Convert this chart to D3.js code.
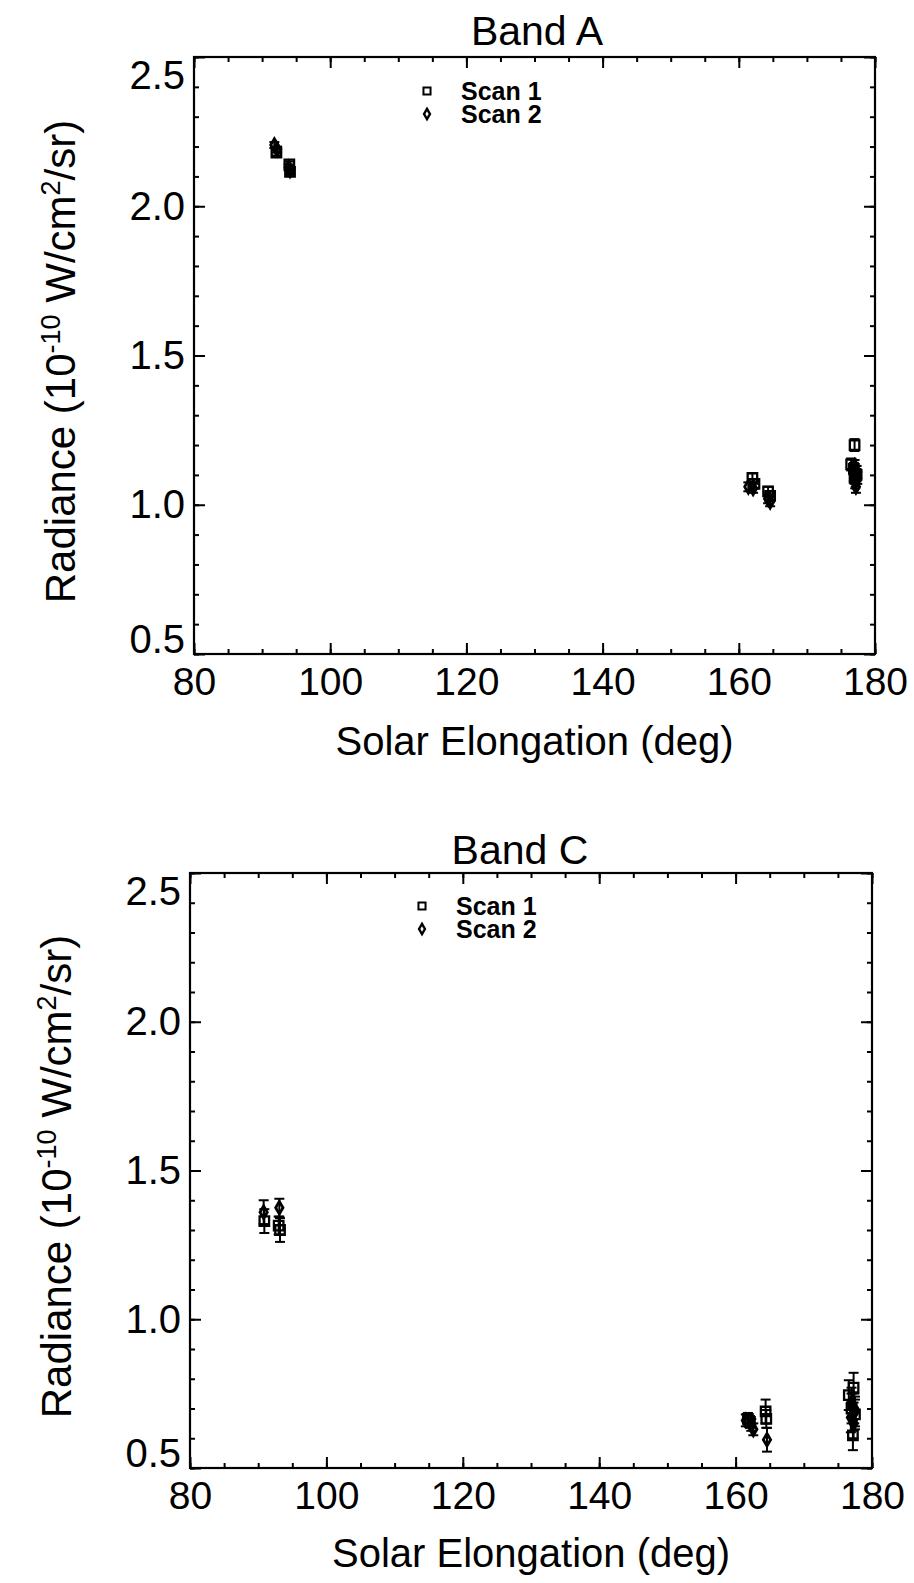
<!DOCTYPE html>
<html>
<head>
<meta charset="utf-8">
<script src="https://cdn.jsdelivr.net/npm/d3@7"></script>
<style>
  body { margin: 0; background: #fff; }
  text { font-family: "Liberation Sans", Arial, sans-serif; fill: #000; }
</style>
</head>
<body>
<div class="canvas"></div>
<script>
// data (solar elongation deg, radiance 1e-10 W/cm2/sr, error)
const xTicks = [80, 100, 120, 140, 160, 180];
const yTicks = [0.5, 1.0, 1.5, 2.0, 2.5];
const legendLabels = ["Scan 1", "Scan 2"];

const bandA_scan1 = [
  { elong: 92.1, rad: 2.18, err: 0.01 },
  { elong: 94.0, rad: 2.14, err: 0.01 },
  { elong: 94.1, rad: 2.115, err: 0.01 },
  { elong: 162.0, rad: 1.09, err: 0.015 },
  { elong: 162.3, rad: 1.07, err: 0.015 },
  { elong: 164.3, rad: 1.045, err: 0.015 },
  { elong: 164.6, rad: 1.03, err: 0.015 },
  { elong: 177.0, rad: 1.2, err: 0.02 },
  { elong: 176.5, rad: 1.135, err: 0.02 },
  { elong: 176.9, rad: 1.12, err: 0.02 },
  { elong: 177.3, rad: 1.1, err: 0.02 },
  { elong: 177.0, rad: 1.09, err: 0.02 }
];
const bandA_scan2 = [
  { elong: 91.8, rad: 2.205, err: 0.01 },
  { elong: 92.2, rad: 2.19, err: 0.01 },
  { elong: 93.9, rad: 2.13, err: 0.01 },
  { elong: 94.1, rad: 2.12, err: 0.01 },
  { elong: 161.4, rad: 1.06, err: 0.015 },
  { elong: 162.1, rad: 1.055, err: 0.015 },
  { elong: 164.3, rad: 1.02, err: 0.015 },
  { elong: 164.6, rad: 1.01, err: 0.015 },
  { elong: 177.0, rad: 1.13, err: 0.02 },
  { elong: 177.3, rad: 1.11, err: 0.02 },
  { elong: 176.9, rad: 1.1, err: 0.02 },
  { elong: 177.4, rad: 1.09, err: 0.02 },
  { elong: 177.1, rad: 1.075, err: 0.02 },
  { elong: 177.2, rad: 1.06, err: 0.02 }
];

const bandC_scan1 = [
  { elong: 90.9, rad: 1.33, err: 0.04 },
  { elong: 93.2, rad: 1.3, err: 0.04 },
  { elong: 93.0, rad: 1.315, err: 0.03 },
  { elong: 161.8, rad: 0.665, err: 0.02 },
  { elong: 162.1, rad: 0.655, err: 0.02 },
  { elong: 164.4, rad: 0.69, err: 0.04 },
  { elong: 164.5, rad: 0.665, err: 0.03 },
  { elong: 176.6, rad: 0.745, err: 0.05 },
  { elong: 177.3, rad: 0.77, err: 0.05 },
  { elong: 177.0, rad: 0.7, err: 0.05 },
  { elong: 177.5, rad: 0.68, err: 0.05 },
  { elong: 177.2, rad: 0.61, err: 0.05 }
];
const bandC_scan2 = [
  { elong: 90.8, rad: 1.36, err: 0.04 },
  { elong: 93.1, rad: 1.375, err: 0.03 },
  { elong: 161.5, rad: 0.66, err: 0.02 },
  { elong: 162.3, rad: 0.645, err: 0.02 },
  { elong: 162.6, rad: 0.63, err: 0.02 },
  { elong: 164.6, rad: 0.595, err: 0.04 },
  { elong: 177.0, rad: 0.72, err: 0.05 },
  { elong: 177.4, rad: 0.7, err: 0.05 },
  { elong: 176.9, rad: 0.67, err: 0.05 },
  { elong: 177.3, rad: 0.65, err: 0.05 },
  { elong: 177.5, rad: 0.69, err: 0.05 }
];

// layout of the two panels
const panels = [
  { title: "Band A", left: 194, right: 875, top: 57, bottom: 654,
    titleX: 537, titleY: 45, xTitleY: 755, yTitleX: 75,
    legX: 427, legY: 91, scan1: bandA_scan1, scan2: bandA_scan2 },
  { title: "Band C", left: 190, right: 872, top: 873, bottom: 1468,
    titleX: 520, titleY: 864, xTitleY: 1567, yTitleX: 71,
    legX: 422, legY: 906, scan1: bandC_scan1, scan2: bandC_scan2 }
];

const svg = d3
  .select(".canvas")
  .append("svg")
  .attr("width", 914)
  .attr("height", 1583);

const square = d3.symbol().type(d3.symbolSquare).size(90);
const diamond = d3.symbol().type(d3.symbolDiamond).size(46);

const drawPanel = p => {
  const x = d3.scaleLinear().domain([80, 180]).range([p.left, p.right]);
  const y = d3.scaleLinear().domain([0.5, 2.5]).range([p.bottom, p.top]);
  const g = svg.append("g");

  // minor ticks, all four sides
  const minorX = d3.range(80, 181, 5);
  const minorY = d3.range(0.5, 2.51, 0.1);
  g.append("g").attr("transform", `translate(0,${p.bottom})`)
    .call(d3.axisBottom(x).tickValues(minorX).tickSize(-5).tickFormat(""));
  g.append("g").attr("transform", `translate(0,${p.top})`)
    .call(d3.axisTop(x).tickValues(minorX).tickSize(-5).tickFormat(""));
  g.append("g").attr("transform", `translate(${p.left},0)`)
    .call(d3.axisLeft(y).tickValues(minorY).tickSize(-5).tickFormat(""));
  g.append("g").attr("transform", `translate(${p.right},0)`)
    .call(d3.axisRight(y).tickValues(minorY).tickSize(-5).tickFormat(""));

  // major ticks
  const xAxis = g.append("g").attr("transform", `translate(0,${p.bottom})`)
    .call(d3.axisBottom(x).tickValues(xTicks).tickSize(-11).tickPadding(13).tickFormat(d3.format("d")));
  g.append("g").attr("transform", `translate(0,${p.top})`)
    .call(d3.axisTop(x).tickValues(xTicks).tickSize(-11).tickFormat(""));
  const yAxis = g.append("g").attr("transform", `translate(${p.left},0)`)
    .call(d3.axisLeft(y).tickValues(yTicks).tickSize(-11).tickPadding(9).tickFormat(d3.format(".1f")));
  g.append("g").attr("transform", `translate(${p.right},0)`)
    .call(d3.axisRight(y).tickValues(yTicks).tickSize(-11).tickFormat(""));

  g.selectAll(".domain").remove();
  g.selectAll(".tick line").attr("stroke", "#000").attr("stroke-width", 2);
  xAxis.selectAll("text").attr("font-size", 39).attr("font-family", "Liberation Sans, Arial, sans-serif").attr("fill", "#000");
  yAxis.selectAll("text").attr("font-size", 40).attr("font-family", "Liberation Sans, Arial, sans-serif").attr("fill", "#000")
    .attr("y", d => (d === 2.5 ? 19 : d === 0.5 ? -14 : 0));

  // frame
  g.append("rect")
    .attr("x", p.left).attr("y", p.top)
    .attr("width", p.right - p.left).attr("height", p.bottom - p.top)
    .attr("fill", "none").attr("stroke", "#000").attr("stroke-width", 2.2);

  // titles
  g.append("text").attr("x", p.titleX).attr("y", p.titleY)
    .attr("text-anchor", "middle").attr("font-size", 41).text(p.title);
  g.append("text").attr("x", (p.left + p.right) / 2).attr("y", p.xTitleY)
    .attr("text-anchor", "middle").attr("font-size", 40).text("Solar Elongation (deg)");

  const yt = g.append("text")
    .attr("transform", `translate(${p.yTitleX},${(p.top + p.bottom) / 2 + 6}) rotate(-90)`)
    .attr("text-anchor", "middle").attr("font-size", 42);
  yt.append("tspan").text("Radiance (10");
  yt.append("tspan").attr("font-size", 27).attr("dy", -15).text("-10");
  yt.append("tspan").attr("dy", 15).text(" W/cm");
  yt.append("tspan").attr("font-size", 27).attr("dy", -15).text("2");
  yt.append("tspan").attr("dy", 15).text("/sr)");

  // error bars
  const all = p.scan1.concat(p.scan2);
  const err = g.append("g").attr("stroke", "#000").attr("stroke-width", 2);
  err.selectAll(".ev").data(all).enter().append("line")
    .attr("x1", d => x(d.elong)).attr("x2", d => x(d.elong))
    .attr("y1", d => y(d.rad - d.err)).attr("y2", d => y(d.rad + d.err));
  [-1, 1].forEach(s => {
    err.selectAll(".cap" + s).data(all).enter().append("line")
      .attr("x1", d => x(d.elong) - 5).attr("x2", d => x(d.elong) + 5)
      .attr("y1", d => y(d.rad + s * d.err)).attr("y2", d => y(d.rad + s * d.err));
  });

  // points
  g.selectAll(".s1").data(p.scan1).enter().append("path")
    .attr("d", square)
    .attr("transform", d => `translate(${x(d.elong)},${y(d.rad)})`)
    .attr("fill", "none").attr("stroke", "#000").attr("stroke-width", 2.3);
  g.selectAll(".s2").data(p.scan2).enter().append("path")
    .attr("d", diamond)
    .attr("transform", d => `translate(${x(d.elong)},${y(d.rad)})`)
    .attr("fill", "none").attr("stroke", "#000").attr("stroke-width", 2.8);

  // legend
  const leg = g.append("g").attr("transform", `translate(${p.legX},${p.legY})`);
  leg.append("path").attr("d", d3.symbol().type(d3.symbolSquare).size(50))
    .attr("fill", "none").attr("stroke", "#000").attr("stroke-width", 2);
  leg.append("path").attr("d", d3.symbol().type(d3.symbolDiamond).size(30))
    .attr("transform", "translate(0,23)")
    .attr("fill", "none").attr("stroke", "#000").attr("stroke-width", 2.4);
  leg.selectAll(".lt").data(legendLabels).enter().append("text")
    .attr("x", 34).attr("y", (d, i) => i * 23 + 9)
    .attr("font-size", 25).attr("font-weight", "bold").text(d => d);
};

panels.forEach(drawPanel);
</script>
</body>
</html>
